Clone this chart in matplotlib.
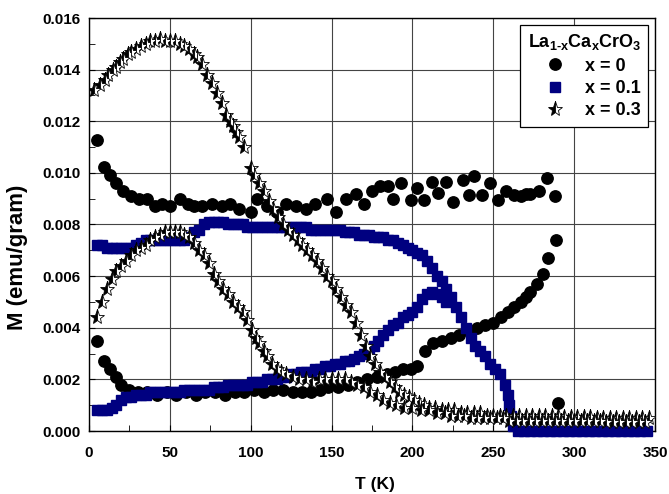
import numpy as np
import matplotlib
matplotlib.use("Agg")
import matplotlib.pyplot as plt
import matplotlib.ticker as tck

plt.rcParams['font.family'] = ['Liberation Sans', 'DejaVu Sans']
plt.rcParams['font.weight'] = 'bold'
plt.rcParams['mathtext.fontset'] = 'custom'
plt.rcParams['mathtext.rm'] = 'Liberation Sans:bold'
plt.rcParams['mathtext.bf'] = 'Liberation Sans:bold'
plt.rcParams['mathtext.default'] = 'bf'

# x = 0, upper (field cooled) branch
t0_up = [5, 9, 13, 17, 21, 26, 31, 36, 41, 45, 50, 56, 61, 65, 70, 76, 82, 87, 93, 100,
         104, 110, 116, 122, 128, 134, 140, 147, 153, 159, 165, 170, 175, 180, 185, 188,
         193, 199, 203, 207, 212, 216, 221, 225, 231, 235, 238, 243, 248, 253, 258, 263,
         267, 270, 273, 278, 283, 288]
m0_up = [0.01128, 0.01023, 0.0099, 0.0096, 0.0093, 0.0091, 0.0090, 0.0090, 0.0087, 0.0088,
         0.0087, 0.0090, 0.0088, 0.0087, 0.0087, 0.0088, 0.0087, 0.0088, 0.0086, 0.0085,
         0.0090, 0.0087, 0.0085, 0.0088, 0.0087, 0.0086, 0.0088, 0.0090, 0.0085, 0.0090,
         0.0092, 0.0088, 0.0093, 0.0095, 0.0095, 0.0090, 0.0096, 0.00895, 0.0094, 0.00895,
         0.00966, 0.00921, 0.00966, 0.00889, 0.00973, 0.00915, 0.00986, 0.00915, 0.0096,
         0.00895, 0.0093, 0.00915, 0.0091, 0.0092, 0.0092, 0.0093, 0.0098, 0.0091]

# x = 0, lower (zero field cooled) branch
t0_lo = [5, 9, 13, 17, 20, 25, 30, 36, 42, 48, 54, 60, 66, 72, 78, 84, 90, 96, 102, 108,
         114, 120, 126, 132, 137, 143, 148, 154, 160, 166, 172, 178, 184, 189, 194, 199,
         203, 208, 213, 218, 224, 229, 234, 240, 245, 250, 255, 259, 263, 267, 270, 273,
         277, 281, 284, 289, 290]
m0_lo = [0.0035, 0.0027, 0.0024, 0.0021, 0.0018, 0.0016, 0.0015, 0.0015, 0.0014, 0.0015,
         0.0014, 0.0015, 0.0014, 0.0015, 0.0015, 0.0014, 0.0015, 0.0015, 0.0016, 0.0015,
         0.0016, 0.0016, 0.0015, 0.0015, 0.0015, 0.0016, 0.0017, 0.0017, 0.0018, 0.0019,
         0.0020, 0.0021, 0.0022, 0.0023, 0.0024, 0.0024, 0.0025, 0.0031, 0.0034, 0.0035,
         0.0036, 0.0037, 0.0039, 0.0040, 0.0041, 0.0042, 0.0044, 0.0046, 0.0048, 0.0050,
         0.0052, 0.0054, 0.0057, 0.0061, 0.0067, 0.0074, 0.0011]

# x = 0.1, upper branch
t1_up = [5, 8, 11, 14, 17, 20, 23, 26, 29, 32, 35, 38, 41, 44, 47, 50, 53, 56, 59, 62,
         65, 68, 71, 74, 77, 80, 83, 86, 89, 92, 95, 98, 101, 104, 107, 110, 113, 116, 119,
         122, 125, 128, 131, 134, 137, 140, 143, 146, 149, 152, 155, 158, 161, 164, 167,
         170, 173, 176, 179, 182, 185, 188, 191, 194, 197, 200, 203, 206, 209, 212, 215,
         218, 221, 224, 227, 230, 233, 236, 239, 242, 245, 248, 251, 254, 257, 259, 260,
         261, 262, 265, 269, 273, 277, 281, 285, 289, 293, 297, 301, 305, 309, 313, 317,
         321, 325, 329, 333, 337, 341, 345]
m1_up = [0.0072, 0.0072, 0.0071, 0.0071, 0.0071, 0.0071, 0.0071, 0.0071, 0.0072, 0.0073,
         0.0074, 0.0074, 0.0074, 0.0074, 0.0074, 0.0074, 0.0074, 0.0074, 0.0074, 0.0075,
         0.0077, 0.0078, 0.0080, 0.0081, 0.0081, 0.0081, 0.0081, 0.0080, 0.0080, 0.0080,
         0.0080, 0.0079, 0.0079, 0.0079, 0.0079, 0.0079, 0.0079, 0.0079, 0.0079, 0.0079,
         0.0079, 0.0079, 0.0079, 0.0079, 0.0078, 0.0078, 0.0078, 0.0078, 0.0078, 0.0078,
         0.0078, 0.0077, 0.0077, 0.0077, 0.0076, 0.0076, 0.0076, 0.0075, 0.0075, 0.0075,
         0.0074, 0.0074, 0.0073, 0.0072, 0.0071, 0.0070, 0.0069, 0.0068, 0.0066, 0.0063,
         0.0060, 0.0058, 0.0055, 0.0052, 0.0048, 0.0044, 0.0040, 0.0036, 0.0033, 0.0031,
         0.0029, 0.0026, 0.0024, 0.0022, 0.0018, 0.0014, 0.0010, 0.0006, 0.0002, 0.0,
         0.0, 0.0, 0.0, 0.0, 0.0, 0.0, 0.0, 0.0, 0.0, 0.0, 0.0, 0.0, 0.0, 0.0, 0.0, 0.0,
         0.0, 0.0, 0.0, 0.0]

# x = 0.1, lower branch
t1_lo = [5, 8, 11, 14, 17, 20, 23, 26, 29, 32, 35, 38, 41, 44, 47, 50, 53, 56, 59, 62,
         65, 68, 71, 74, 77, 80, 83, 86, 89, 92, 95, 98, 101, 104, 107, 110, 113, 116, 119,
         122, 125, 128, 131, 134, 137, 140, 143, 146, 149, 152, 155, 158, 161, 164, 167,
         170, 173, 176, 179, 182, 185, 188, 191, 194, 197, 200, 203, 206, 209, 212, 215,
         218, 221]
m1_lo = [0.0008, 0.0008, 0.0008, 0.0009, 0.0010, 0.0012, 0.0013, 0.0013, 0.0014, 0.0014,
         0.0014, 0.0015, 0.0015, 0.0015, 0.0015, 0.0015, 0.0015, 0.0015, 0.0016, 0.0016,
         0.0016, 0.0016, 0.0016, 0.0016, 0.0017, 0.0017, 0.0017, 0.0018, 0.0018, 0.0018,
         0.0018, 0.0018, 0.0019, 0.0019, 0.0019, 0.0020, 0.0020, 0.0020, 0.0021, 0.0021,
         0.0022, 0.0022, 0.0023, 0.0023, 0.0023, 0.0024, 0.0024, 0.0025, 0.0025, 0.0026,
         0.0026, 0.0027, 0.0027, 0.0028, 0.0029, 0.0030, 0.0031, 0.0033, 0.0035, 0.0037,
         0.0039, 0.0041, 0.0042, 0.0044, 0.0045, 0.0046, 0.0048, 0.0051, 0.0053, 0.0054,
         0.0053, 0.0052, 0.0050]

# x = 0.3, upper branch
t3_up = [3, 7, 10, 12, 15, 17, 19, 21, 24, 26, 29, 32, 35, 38, 41, 44, 47, 50, 53, 56,
         59, 62, 65, 67, 70, 73, 76, 79, 82, 85, 87, 89, 91, 93, 96, 100, 102, 105, 108,
         111, 114, 117, 120, 123, 126, 129, 132, 135, 138, 141, 144, 147, 150, 153, 156,
         159, 162, 165, 168, 171, 174, 177, 180, 183, 186, 189, 192, 195, 198, 201, 204,
         207, 210, 214, 218, 222, 226, 230, 234, 238, 242, 246, 250, 254, 258, 262, 266,
         270, 274, 278, 282, 286, 290, 294, 298, 302, 306, 310, 314, 318, 322, 326, 330,
         334, 338, 342, 346]
m3_up = [0.0132, 0.0134, 0.0136, 0.0138, 0.0140, 0.0141, 0.0143, 0.0144, 0.0146, 0.0147,
         0.0148, 0.0149, 0.0150, 0.0151, 0.0151, 0.0152, 0.0151, 0.0151, 0.0151, 0.0150,
         0.0149, 0.0148, 0.0146, 0.0145, 0.0142, 0.0138, 0.0135, 0.0131, 0.0127, 0.01225,
         0.0120, 0.0118, 0.0116, 0.0114, 0.0110, 0.0102, 0.0099, 0.0096, 0.0093, 0.0089,
         0.0086, 0.0083, 0.0080, 0.0078, 0.0076, 0.0074, 0.0072, 0.0070, 0.0068, 0.0066,
         0.0063, 0.0060, 0.0058, 0.0055, 0.0052, 0.0049, 0.0046, 0.0042, 0.0037, 0.0033,
         0.0029, 0.0026, 0.0023, 0.0021, 0.0019, 0.0017, 0.0015, 0.0014, 0.0013, 0.0012,
         0.0011, 0.0010, 0.0009, 0.0009, 0.0008, 0.0008, 0.0008, 0.0007, 0.0007, 0.0007,
         0.0007, 0.0006, 0.0006, 0.0006, 0.0006, 0.0006, 0.0006, 0.0006, 0.0006, 0.0006,
         0.0006, 0.0006, 0.0006, 0.00055, 0.00055, 0.00055, 0.00055, 0.00055, 0.0005,
         0.0005, 0.0005, 0.0005, 0.0005, 0.0005, 0.0005, 0.0005, 0.0005]

# x = 0.3, lower branch
t3_lo = [5, 8, 11, 14, 17, 20, 23, 26, 29, 32, 35, 38, 41, 44, 47, 50, 53, 56, 59, 62,
         65, 68, 71, 74, 77, 80, 83, 86, 89, 92, 95, 98, 101, 103, 105, 108, 110, 113, 116,
         119, 122, 126, 130, 134, 138, 142, 146, 150, 154, 158, 162, 166, 170, 174, 178,
         182, 186, 190, 195, 200, 205, 210, 215, 220, 224, 228, 232, 236, 240, 244, 248,
         252, 256, 260, 264, 268, 272, 276, 280, 284, 288, 292, 296, 300, 304, 308, 312,
         316, 320, 324, 328, 332, 336, 340, 344]
m3_lo = [0.0044, 0.0050, 0.0055, 0.0059, 0.0062, 0.0064, 0.0066, 0.0068, 0.0070, 0.0071,
         0.0072, 0.0074, 0.0075, 0.0076, 0.0077, 0.0077, 0.0077, 0.0077, 0.0076, 0.0075,
         0.0073, 0.0070, 0.0068, 0.0065, 0.0061, 0.0058, 0.0055, 0.0053, 0.0050, 0.0048,
         0.0046, 0.0043, 0.0039, 0.0036, 0.0034, 0.0031, 0.0029, 0.0026, 0.0024, 0.0023,
         0.0022, 0.0021, 0.0020, 0.0020, 0.0019, 0.0020, 0.0020, 0.0020, 0.0020, 0.0020,
         0.0019, 0.0018, 0.0017, 0.0015, 0.0014, 0.0012, 0.0011, 0.0010, 0.0009, 0.0009,
         0.0008, 0.0008, 0.0007, 0.0007, 0.0006, 0.0006, 0.0006, 0.0005, 0.0005, 0.0005,
         0.0005, 0.0005, 0.0005, 0.0004, 0.0004, 0.0004, 0.0004, 0.0004, 0.0004, 0.0004,
         0.0004, 0.0004, 0.0004, 0.0004, 0.0004, 0.0004, 0.0004, 0.0004, 0.00035, 0.00035,
         0.00035, 0.00035, 0.00035, 0.00035, 0.00035]

labels = ["x = 0", "x = 0.1", "x = 0.3"]
legend_title = r"La$_{\text{1-x}}$Ca$_{\text{x}}$CrO$_{\text{3}}$"

fig = plt.figure(figsize=(6.69, 4.94), dpi=100)
ax = fig.add_axes([89/669, 63/494, 566/669, 413/494])

circ = dict(linestyle='none', marker='o', markersize=8.2, color='black')
sq = dict(linestyle='none', marker='s', markersize=7.2, color='navy', clip_on=False)
star = dict(linestyle='none', marker='*', markersize=11, markerfacecolor='black',
            markerfacecoloralt='white', fillstyle='left', markeredgecolor='black',
            markeredgewidth=0.6)

h0, = ax.plot(t0_up, m0_up, label=labels[0], zorder=3, **circ)
ax.plot(t0_lo, m0_lo, zorder=3, **circ)
h1, = ax.plot(t1_up, m1_up, label=labels[1], zorder=4, **sq)
ax.plot(t1_lo, m1_lo, zorder=4, **sq)
h3, = ax.plot(t3_up, m3_up, label=labels[2], zorder=5, **star)
ax.plot(t3_lo, m3_lo, zorder=5, **star)

ax.set_xlim(0, 350)
ax.set_ylim(0, 0.016)
ax.xaxis.set_major_locator(tck.MultipleLocator(50))
ax.xaxis.set_minor_locator(tck.MultipleLocator(25))
ax.yaxis.set_major_locator(tck.MultipleLocator(0.002))
ax.yaxis.set_minor_locator(tck.MultipleLocator(0.001))
ax.yaxis.set_major_formatter(tck.FormatStrFormatter('%.3f'))
ax.grid(True, which='major', color='#444444', linewidth=0.8)
ax.set_axisbelow(True)
ax.tick_params(axis='both', which='both', direction='in', labelsize=11)
ax.tick_params(axis='x', which='both', pad=11)
ax.tick_params(axis='y', which='both', pad=6)
ax.tick_params(which='both', length=4)
for s in ax.spines.values():
    s.set_linewidth(1.0)

ax.set_xlabel("T (K)", fontsize=12.5, fontweight='bold')
ax.set_ylabel("M (emu/gram)", fontsize=16, fontweight='bold')
ax.xaxis.set_label_coords(0.505, -0.112)
ax.yaxis.set_label_coords(-0.108, 0.42)

leg = ax.legend(handles=[h0, h1, h3], title=legend_title, loc='upper right',
                bbox_to_anchor=(0.988, 0.983), borderaxespad=0, fancybox=False,
                framealpha=1, edgecolor='black', fontsize=13,
                title_fontproperties={'size': 13, 'weight': 'bold'},
                labelspacing=0.3, handlelength=3.0, handletextpad=0.2,
                borderpad=0.4)
leg.get_frame().set_linewidth(0.9)
leg.set_zorder(10)

plt.savefig("out.png", dpi=100)
